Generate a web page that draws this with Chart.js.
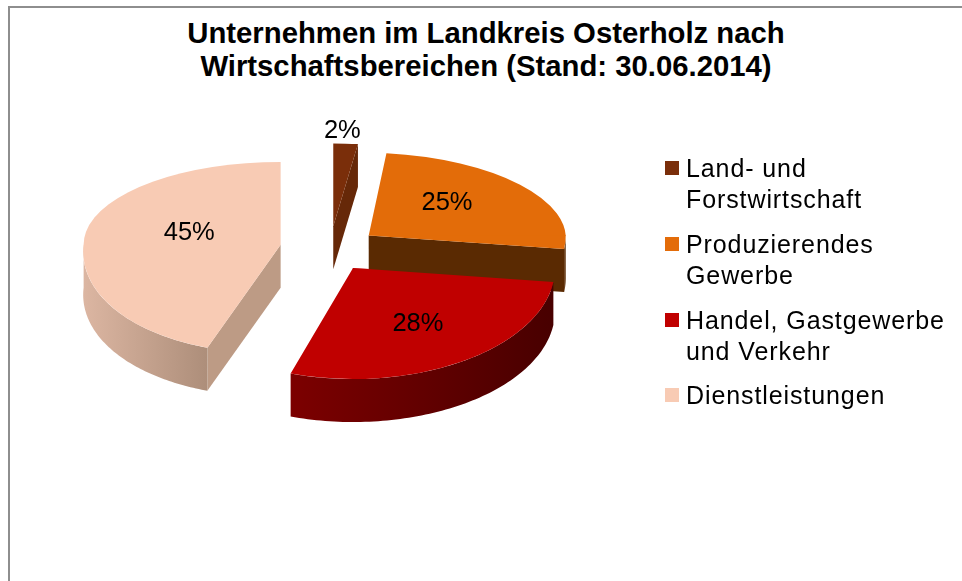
<!DOCTYPE html>
<html>
<head>
<meta charset="utf-8">
<script src="https://cdn.jsdelivr.net/npm/chart.js@4"></script>
<style>
  html, body { margin: 0; padding: 0; background: #fff; overflow: hidden; }
  body { width: 962px; height: 581px; position: relative; font-family: "Liberation Sans", Arial, sans-serif; color: #000; }
  #frame { position: absolute; left: 8px; top: 6px; right: -10px; bottom: -10px; border-left: 2.5px solid #8e8e8e; border-top: 2.5px solid #8e8e8e; }
  #title { position: absolute; left: 0; top: 16px; width: 972px; text-align: center; font-weight: bold; font-size: 29.3px; line-height: 33px; white-space: nowrap; }
  #chart { position: absolute; left: 0; top: 0; }
  .legend-item { position: absolute; left: 665px; }
  .legend-box { position: absolute; left: 0; top: 8px; width: 14px; height: 14px; }
  .legend-text { position: absolute; left: 21px; top: 0; white-space: nowrap; font-size: 25px; letter-spacing: 0.9px; line-height: 30.5px; }
</style>
</head>
<body>
<div id="frame"></div>
<div id="title">Unternehmen im Landkreis Osterholz nach<br>Wirtschaftsbereichen (Stand: 30.06.2014)</div>
<canvas id="chart" width="962" height="581"></canvas>
<div id="legend"></div>
<script>
// values
const categories = [['Land- und', 'Forstwirtschaft'], ['Produzierendes', 'Gewerbe'], ['Handel, Gastgewerbe', 'und Verkehr'], ['Dienstleistungen']];
const shares = [2, 25, 28, 45];

// slice look
const topColors = ['#7a2e0a', '#e36c09', '#c00000', '#f8cbb4'];
const faceColors = ['#662808', '#5a2a02', '#4a0000', '#bd9b85'];
const wallLeft = ['#662808', '#5a2a02', '#7c0000', '#dcb6a2'];
const wallRight = ['#662808', '#5a2a02', '#480000', '#ad8e7a'];
const explode = [52, 49, 43, 50];
const labelAt = [1.15, 0.57, 0.6, 0.485];
const labelTurn = [-1.3, -6, 0, 8];
const legendTops = [153, 229, 305, 380];

// fake 3d: back half is flatter than the front half, some slices lean a bit
const squashBack = 0.42;
const squashFront = 0.55;
const leanBack = [0, 0.085, 0, 0];
const leanFront = [0, 0, 0, -0.12];
const grow = [1, 1, 1.025, 1];
const depth = 43;

function squash(a) {
  return Math.sin(a) < 0 ? squashBack : squashFront;
}

function sliceShift(arc, i) {
  const mid = (arc.startAngle + arc.endAngle) / 2;
  return {
    x: Math.cos(mid) * explode[i],
    y: Math.sin(mid) * squash(mid) * explode[i]
  };
}

function rimPoint(arc, i, a, r) {
  const dy = Math.sin(a) * squash(a) * r * grow[i];
  const lean = dy < 0 ? leanBack[i] : leanFront[i];
  return { x: arc.x + Math.cos(a) * r * grow[i] + lean * dy, y: arc.y + dy };
}

function drawFace(ctx, arc, i, a) {
  const p = rimPoint(arc, i, a, arc.outerRadius);
  ctx.fillStyle = faceColors[i];
  ctx.beginPath();
  ctx.moveTo(arc.x, arc.y);
  ctx.lineTo(p.x, p.y);
  ctx.lineTo(p.x, p.y + depth);
  ctx.lineTo(arc.x, arc.y + depth);
  ctx.closePath();
  ctx.fill();
}

function drawWall(ctx, arc, i) {
  // only the part facing the viewer, between 3 and 9 o'clock
  const from = Math.max(arc.startAngle, 0);
  const to = Math.min(arc.endAngle, Math.PI);
  if (to <= from) return;
  const steps = 80;
  const pts = [];
  for (let s = 0; s <= steps; s++) {
    pts.push(rimPoint(arc, i, from + (to - from) * s / steps, arc.outerRadius));
  }
  const xs = pts.map(p => p.x);
  const grad = ctx.createLinearGradient(Math.min(...xs), 0, Math.max(...xs), 0);
  grad.addColorStop(0, wallLeft[i]);
  grad.addColorStop(1, wallRight[i]);
  ctx.fillStyle = grad;
  ctx.beginPath();
  pts.forEach((p, k) => k ? ctx.lineTo(p.x, p.y) : ctx.moveTo(p.x, p.y));
  pts.slice().reverse().forEach(p => ctx.lineTo(p.x, p.y + depth));
  ctx.closePath();
  ctx.fill();
}

function drawTop(ctx, arc, i, back) {
  const sq = back ? squashBack : squashFront;
  const lean = back ? leanBack[i] : leanFront[i];
  ctx.save();
  ctx.beginPath();
  if (back) ctx.rect(-2000, arc.y - 2000, 4000, 2000.5);
  else ctx.rect(-2000, arc.y, 4000, 2000);
  ctx.clip();
  ctx.translate(arc.x, arc.y);
  ctx.transform(grow[i], 0, lean * sq * grow[i], sq * grow[i], 0, 0);
  ctx.translate(-arc.x, -arc.y);
  arc.draw(ctx);
  ctx.restore();
}

const pie3d = {
  id: 'pie3d',
  beforeDatasetDraw(chart, args) {
    const ctx = chart.ctx;
    args.meta.data.forEach((arc, i) => {
      const shift = sliceShift(arc, i);
      ctx.save();
      ctx.translate(shift.x, shift.y);
      // a cut shows only when its normal points towards the viewer
      if (Math.sin(arc.endAngle + Math.PI / 2) > 0.01) drawFace(ctx, arc, i, arc.endAngle);
      if (Math.sin(arc.startAngle - Math.PI / 2) > 0.01) drawFace(ctx, arc, i, arc.startAngle);
      drawWall(ctx, arc, i);
      drawTop(ctx, arc, i, true);
      drawTop(ctx, arc, i, false);
      ctx.restore();
    });
    return false;
  },
  afterDatasetsDraw(chart) {
    const ctx = chart.ctx;
    const total = shares.reduce((a, b) => a + b, 0);
    ctx.save();
    ctx.fillStyle = '#000';
    ctx.font = '25.5px "Liberation Sans"';
    ctx.textAlign = 'center';
    ctx.textBaseline = 'middle';
    chart.getDatasetMeta(0).data.forEach((arc, i) => {
      const shift = sliceShift(arc, i);
      const mid = (arc.startAngle + arc.endAngle) / 2 + labelTurn[i] * Math.PI / 180;
      const p = rimPoint(arc, i, mid, arc.outerRadius * labelAt[i]);
      ctx.fillText(Math.round(shares[i] / total * 100) + '%', p.x + shift.x, p.y + shift.y);
    });
    ctx.restore();
  }
};

new Chart(document.getElementById('chart').getContext('2d'), {
  type: 'pie',
  data: {
    labels: categories.map(c => c.join(' ')),
    datasets: [{
      data: shares,
      backgroundColor: topColors,
      borderWidth: 0
    }]
  },
  options: {
    responsive: false,
    animation: false,
    layout: { padding: { left: 133, right: 435, top: 51, bottom: 136 } },
    plugins: {
      legend: { display: false },
      title: { display: false },
      tooltip: { enabled: false }
    }
  },
  plugins: [pie3d]
});

// legend
const legend = document.getElementById('legend');
categories.forEach((lines, i) => {
  const item = document.createElement('div');
  item.className = 'legend-item';
  item.style.top = legendTops[i] + 'px';
  item.innerHTML = `
    <div class="legend-box" style="background:${topColors[i]}"></div>
    <div class="legend-text">${lines.join('<br>')}</div>
  `;
  legend.appendChild(item);
});
</script>
</body>
</html>
